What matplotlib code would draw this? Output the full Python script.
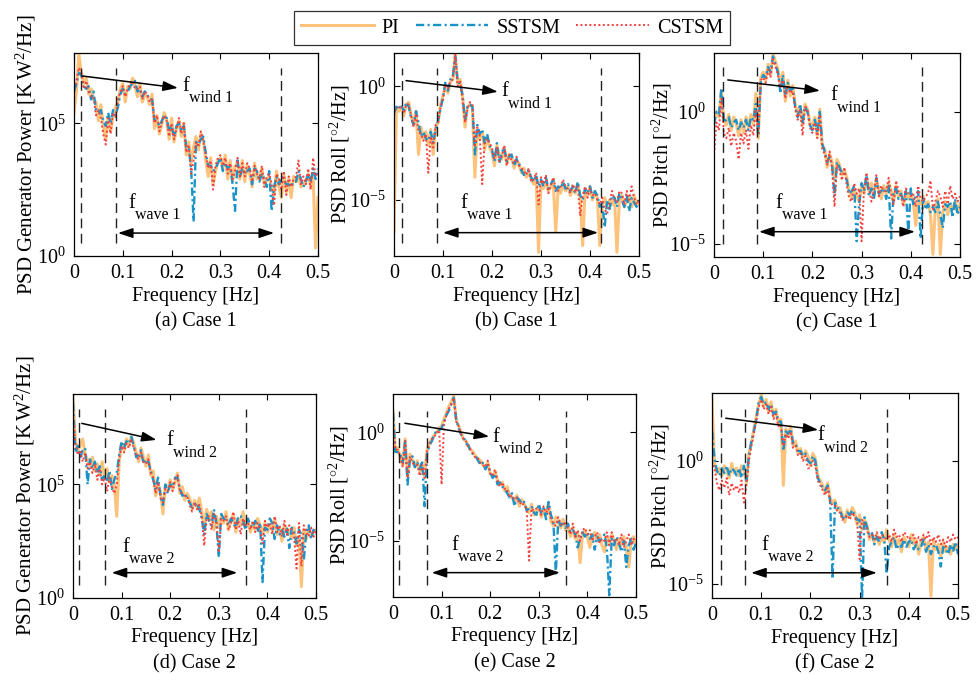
import numpy as np
import matplotlib
matplotlib.use('Agg')
import matplotlib.pyplot as plt

plt.rcParams['font.family'] = ['Liberation Serif', 'DejaVu Serif']
plt.rcParams['mathtext.fontset'] = 'custom'
plt.rcParams['mathtext.rm'] = 'Liberation Serif'
plt.rcParams['mathtext.it'] = 'Liberation Serif:italic'
plt.rcParams['axes.unicode_minus'] = False

# frequency bins [Hz]
freq = np.linspace(0, 0.5, 101)

series_names = ['PI', 'SSTSM', 'CSTSM']

# log10 of PSD values
# (a) generator power, case 1
a_pi = [5.4, 6.2, 7.6, 6.9, 6.5, 6.7, 6.1, 6.3, 5.9, 5.8,
        5.1, 5.7, 4.9, 4.4, 5.2, 4.7, 5.3, 5.6, 5.8, 6.3,
        6.5, 5.8, 6.4, 6.3, 6.7, 6.4, 6.0, 6.5, 5.8, 6.1,
        6.0, 5.7, 6.1, 4.8, 5.3, 4.6, 5.0, 5.4, 5.1, 4.4,
        5.2, 4.3, 4.8, 5.1, 4.5, 5.0, 3.8, 4.3, 3.5, 4.1,
        4.5, 4.0, 4.6, 4.4, 3.6, 3.0, 3.7, 2.7, 3.2, 3.6,
        3.7, 3.3, 3.8, 2.9, 3.6, 2.8, 3.4, 3.5, 2.9, 3.6,
        2.8, 3.4, 3.1, 2.6, 3.5, 2.9, 3.0, 3.3, 2.7, 2.9,
        3.0, 2.6, 2.3, 3.2, 2.6, 2.2, 3.1, 2.4, 2.9, 2.2,
        3.0, 2.8, 3.0, 2.6, 2.7, 2.8, 3.1, 2.6, 3.0, 0.3,
        2.2]
a_ss = [6.2, 6.5, 6.9, 6.8, 6.4, 6.3, 6.4, 5.9, 6.2, 5.5,
        5.4, 5.5, 5.1, 4.9, 5.4, 5.0, 5.5, 5.3, 5.6, 6.1,
        6.3, 6.1, 6.2, 6.4, 6.5, 6.6, 6.2, 6.3, 6.0, 6.2,
        6.1, 5.9, 5.9, 5.1, 5.1, 4.9, 5.1, 5.3, 5.2, 4.7,
        4.9, 4.5, 4.9, 5.0, 4.7, 4.9, 4.1, 4.1, 3.3, 1.3,
        4.3, 4.2, 4.4, 4.5, 3.9, 3.4, 3.4, 3.2, 3.3, 3.5,
        3.7, 3.2, 3.5, 3.3, 3.4, 2.7, 1.7, 3.6, 3.0, 3.3,
        3.1, 3.2, 3.3, 2.7, 3.3, 3.2, 2.8, 3.1, 2.9, 2.6,
        3.2, 1.7, 2.6, 3.0, 2.7, 3.0, 2.9, 2.7, 2.7, 2.6,
        2.8, 2.8, 3.2, 2.9, 2.6, 2.8, 3.1, 2.8, 3.3, 2.9,
        3.3]
a_cs = [6.3, 6.6, 7.1, 6.9, 6.3, 6.6, 6.2, 6.0, 6.0, 5.3,
        5.5, 5.2, 4.6, 4.2, 5.2, 4.6, 5.4, 5.2, 5.9, 6.2,
        6.4, 6.0, 6.3, 6.5, 6.6, 6.3, 6.3, 6.4, 5.9, 6.2,
        6.1, 5.8, 5.9, 5.0, 5.3, 4.7, 5.0, 5.3, 5.1, 4.5,
        5.0, 4.4, 4.8, 5.2, 4.6, 5.0, 3.9, 4.2, 3.1, 3.6,
        4.3, 4.1, 4.7, 4.3, 3.8, 3.3, 3.6, 2.5, 3.4, 3.7,
        3.8, 3.4, 3.7, 3.1, 3.5, 2.9, 3.2, 3.7, 3.0, 3.5,
        3.0, 3.5, 3.3, 2.8, 3.4, 3.1, 2.9, 3.4, 2.6, 3.0,
        3.1, 2.7, 1.9, 3.1, 2.9, 2.5, 3.2, 2.3, 3.0, 2.6,
        2.9, 3.0, 3.6, 2.7, 3.0, 2.7, 3.3, 2.5, 3.7, 3.0,
        3.2]

# (b) roll, case 1
b_pi = [-6.4, -1.0, -1.1, -0.9, -1.3, -0.8, -0.7, -1.3, -1.6, -1.1,
        -3.0, -1.8, -2.3, -2.0, -2.6, -1.9, -3.0, -1.8, -1.6, -0.8,
        -0.4, 0.0, -0.3, 0.2, 0.3, 1.45, 0.1, 0.3, -0.5, -1.8,
        -0.9, -0.8, -0.9, -4.0, -1.9, -2.3, -2.0, -2.8, -2.2, -2.7,
        -2.9, -3.5, -2.6, -3.0, -3.2, -2.7, -3.4, -3.0, -3.1, -3.6,
        -3.3, -3.4, -3.8, -3.6, -4.0, -3.8, -4.1, -4.3, -4.0, -7.3,
        -4.2, -4.5, -4.2, -4.6, -4.4, -4.2, -6.4, -4.5, -4.7, -4.3,
        -4.6, -4.4, -4.8, -4.5, -4.7, -4.3, -4.9, -7.0, -4.6, -4.8,
        -4.4, -5.0, -4.7, -4.9, -7.0, -5.2, -4.9, -5.3, -5.0, -5.2,
        -4.9, -7.3, -5.0, -4.8, -5.3, -5.0, -4.9, -5.3, -4.8, -5.1,
        -5.2]
b_ss = [-1.2, -0.9, -1.0, -0.8, -1.1, -0.7, -0.9, -1.4, -1.7, -1.1,
        -1.6, -2.2, -2.0, -2.3, -2.4, -2.0, -2.5, -1.9, -1.5, -1.0,
        -0.5, 0.2, -0.2, 0.3, 0.4, 1.3, 0.2, 0.1, -0.4, -1.5,
        -0.9, -0.8, -0.9, -3.0, -1.7, -2.1, -1.9, -2.5, -2.1, -2.6,
        -2.8, -3.3, -2.5, -3.4, -2.9, -2.7, -3.3, -3.1, -3.0, -3.5,
        -3.2, -3.4, -3.7, -3.9, -3.8, -3.7, -4.0, -4.2, -3.9, -4.4,
        -4.1, -4.4, -4.0, -4.5, -4.3, -4.1, -4.6, -4.4, -4.5, -4.2,
        -4.5, -4.3, -4.6, -4.4, -4.7, -4.2, -4.8, -5.0, -4.5, -4.7,
        -4.4, -4.9, -4.6, -4.8, -5.3, -5.1, -6.2, -5.0, -5.4, -4.8,
        -4.9, -5.3, -4.7, -5.0, -5.3, -4.8, -5.5, -4.9, -5.1, -5.3,
        -5.0]
b_cs = [-1.1, -1.0, -0.9, -0.9, -1.2, -0.8, -0.8, -1.3, -1.8, -1.2,
        -2.0, -2.1, -2.4, -2.1, -3.8, -2.2, -2.7, -1.7, -1.6, -0.9,
        -0.6, 0.1, -0.1, 0.2, 0.3, 1.4, 0.0, 0.2, -0.6, -1.6,
        -1.0, -0.7, -0.8, -2.6, -1.8, -2.2, -4.3, -2.4, -2.3, -2.5,
        -2.7, -3.2, -2.7, -3.3, -3.1, -2.6, -3.5, -3.0, -3.3, -3.4,
        -3.1, -3.5, -3.6, -3.7, -3.9, -3.6, -4.2, -4.1, -3.8, -5.2,
        -4.0, -4.3, -3.9, -4.7, -4.4, -4.0, -4.5, -4.6, -4.4, -4.1,
        -4.4, -4.5, -4.7, -4.3, -4.6, -4.4, -5.7, -4.8, -4.4, -4.9,
        -4.5, -4.8, -4.7, -5.0, -5.2, -4.9, -5.4, -5.6, -5.1, -4.6,
        -5.0, -5.1, -4.6, -4.7, -5.2, -4.6, -5.0, -4.4, -4.9, -5.2,
        -5.0]

# (c) pitch, case 1
c_pi = [-0.3, 0.0, -0.2, 0.8, -0.3, -0.5, -0.1, -0.7, -0.2, -0.4,
        -0.9, -0.3, -0.8, -0.2, -0.6, -0.1, -0.5, 0.7, -1.0, 1.3,
        1.5, 1.2, 1.8, 1.4, 2.2, 1.9, 1.6, 1.0, 1.5, 0.4,
        1.2, 0.6, 1.0, 0.3, -0.1, 0.2, -0.5, 0.3, 0.1, -0.4,
        -0.6, -0.2, -0.9, 0.1, -1.3, -1.4, -2.1, -1.6, -1.9, -2.6,
        -1.8, -2.0, -2.4, -2.2, -2.5, -3.0, -3.3, -2.9, -3.2, -3.4,
        -2.8, -3.1, -2.5, -3.0, -2.7, -3.2, -2.6, -2.9, -3.3, -2.8,
        -3.1, -2.7, -3.0, -3.4, -2.8, -3.2, -3.0, -3.5, -3.1, -3.3,
        -3.0, -3.4, -4.3, -3.3, -3.5, -3.2, -3.6, -3.4, -3.9, -5.4,
        -3.6, -3.3, -5.4, -3.8, -3.4, -3.9, -3.5, -3.7, -3.4, -3.8,
        -3.5]
c_ss = [-0.5, 0.0, -0.1, 0.9, -0.4, -0.3, -0.2, -0.6, -0.4, -0.3,
        -0.7, -0.4, -0.6, -0.3, -0.7, -0.2, -0.3, 0.3, -0.9, 1.1,
        1.4, 1.3, 1.7, 1.5, 2.1, 1.8, 1.5, 0.7, 1.4, 0.6,
        1.1, 0.8, 0.9, 0.2, -0.2, 0.3, -0.4, 0.2, 0.0, -0.5,
        -0.7, -0.3, -0.8, 0.0, -1.2, -1.5, -1.9, -1.7, -2.0, -3.2,
        -1.9, -2.1, -2.3, -2.3, -2.6, -3.1, -3.0, -2.8, -4.9, -3.5,
        -2.7, -3.0, -2.4, -3.2, -2.9, -3.3, -2.5, -3.1, -3.0, -2.9,
        -3.3, -2.8, -4.8, -3.0, -2.9, -3.3, -3.1, -3.4, -3.0, -4.6,
        -2.9, -3.5, -3.2, -3.0, -4.8, -3.3, -3.7, -3.5, -3.8, -3.6,
        -3.8, -3.4, -3.9, -4.4, -3.5, -3.6, -3.4, -4.0, -3.3, -3.9,
        -3.6]
c_cs = [-1.6, -0.4, -0.7, 0.5, -0.8, -1.0, -0.6, -1.3, -0.8, -1.1,
        -1.8, -0.8, -1.2, -0.7, -1.4, -0.5, -0.9, 0.1, -0.8, 1.2,
        1.3, 1.1, 1.6, 1.3, 2.0, 1.7, 1.4, 0.9, 1.2, 0.5,
        1.0, 0.7, 0.8, 0.1, -0.3, 0.1, -0.9, 0.2, 0.1, -0.6,
        -0.8, -0.4, -1.0, -0.1, -1.4, -1.6, -2.0, -1.5, -2.2, -3.6,
        -2.0, -2.2, -2.6, -2.1, -2.8, -3.3, -3.4, -2.7, -3.1, -2.9,
        -4.9, -2.9, -2.3, -2.9, -3.4, -3.0, -2.4, -3.2, -2.8, -3.0,
        -3.0, -2.5, -3.1, -3.5, -2.6, -3.0, -3.2, -3.6, -2.9, -3.1,
        -3.2, -3.1, -3.6, -2.8, -3.3, -3.4, -3.2, -3.1, -2.6, -3.7,
        -3.4, -3.0, -3.2, -3.6, -3.0, -3.5, -2.8, -3.3, -3.1, -3.4,
        -3.2]

# (d) generator power, case 2
d_pi = [8.9, 6.9, 6.5, 6.7, 7.0, 6.3, 6.1, 5.8, 6.2, 5.6,
        5.9, 5.4, 6.0, 5.3, 5.7, 5.1, 5.4, 5.0, 3.6, 6.0,
        6.8, 6.5, 7.0, 6.7, 7.1, 6.8, 6.4, 6.0, 6.6, 6.2,
        5.8, 6.3, 5.4, 5.6, 4.5, 5.0, 4.7, 3.7, 4.9, 4.8,
        5.2, 4.8, 5.1, 5.5, 4.6, 4.9, 4.3, 4.6, 4.4, 3.9,
        4.3, 4.0, 4.4, 3.8, 3.2, 3.9, 3.5, 3.8, 3.0, 3.6,
        3.1, 3.6, 3.3, 3.8, 3.0, 3.4, 3.7, 2.9, 3.5, 3.2,
        3.8, 3.1, 3.4, 2.9, 3.3, 3.0, 3.5, 3.2, 2.8, 3.3,
        2.9, 3.2, 3.0, 3.5, 2.8, 3.1, 2.5, 3.2, 2.9, 3.0,
        2.6, 3.1, 2.3, 2.7, 0.5, 3.0, 2.6, 3.1, 2.7, 2.9,
        3.0]
d_ss = [8.6, 6.4, 6.7, 6.2, 6.5, 6.6, 5.0, 6.1, 5.7, 6.0,
        5.5, 5.8, 5.2, 5.4, 5.1, 5.6, 4.8, 5.2, 5.5, 6.3,
        6.9, 6.6, 6.9, 6.8, 7.1, 6.7, 6.2, 6.3, 6.5, 5.9,
        6.1, 6.0, 5.6, 5.2, 4.8, 5.3, 4.5, 4.1, 5.0, 4.6,
        5.0, 4.9, 5.3, 5.3, 4.8, 4.5, 4.6, 4.4, 4.2, 4.0,
        4.1, 4.2, 3.9, 3.5, 2.8, 3.7, 3.4, 3.2, 3.9, 3.3,
        1.8, 3.7, 3.5, 3.4, 3.2, 3.5, 3.3, 3.1, 3.6, 3.6,
        3.4, 3.0, 3.5, 3.2, 3.1, 3.4, 2.9, 3.3, 0.7, 3.1,
        3.0, 3.5, 3.3, 2.6, 3.2, 2.8, 3.0, 2.7, 3.1, 2.2,
        3.1, 2.9, 2.4, 3.0, 2.8, 1.7, 2.9, 3.2, 2.6, 3.0,
        2.8]
d_cs = [8.0, 6.8, 6.3, 6.5, 6.0, 6.4, 5.7, 6.0, 5.5, 5.9,
        5.2, 5.7, 5.0, 5.3, 4.7, 5.3, 4.9, 4.6, 5.0, 6.1,
        6.7, 6.4, 6.8, 6.6, 7.0, 6.6, 6.3, 6.1, 6.4, 6.0,
        5.9, 6.1, 5.5, 5.3, 4.6, 5.1, 4.4, 4.2, 4.8, 4.7,
        5.1, 4.7, 5.2, 5.4, 4.7, 4.6, 4.5, 4.5, 4.1, 3.8,
        4.2, 3.9, 4.1, 3.6, 2.3, 3.5, 3.6, 3.0, 3.7, 3.4,
        2.0, 3.5, 3.4, 3.6, 3.0, 3.3, 3.8, 3.0, 3.4, 2.8,
        3.5, 3.2, 3.3, 3.0, 3.4, 2.9, 3.3, 3.0, 2.4, 3.4,
        3.1, 3.3, 2.8, 3.6, 2.9, 3.2, 2.7, 3.4, 2.8, 3.2,
        3.0, 2.7, 1.3, 3.3, 1.4, 3.2, 2.9, 2.7, 3.1, 2.7,
        3.0]

# (e) roll, case 2
e_pi = [1.0, -0.9, -0.7, -1.2, -1.5, -0.3, -2.0, -1.0, -1.3, -1.6,
        -1.3, -1.8, -1.5, -2.0, -0.8, -0.5, -0.3, -0.1, 0.0, 0.2,
        0.3, 0.6, 0.9, 1.2, 1.4, 1.7, 0.6, 0.3, 0.0, -0.3,
        -0.4, -0.6, -0.8, -0.9, -1.1, -1.2, -1.3, -1.5, -1.6, -1.4,
        -1.9, -2.0, -1.8, -2.2, -2.4, -2.3, -2.7, -2.5, -2.9, -3.0,
        -3.2, -2.9, -3.4, -3.1, -3.3, -3.5, -3.7, -3.3, -3.8, -3.6,
        -3.4, -3.9, -3.6, -3.8, -3.3, -4.1, -4.3, -3.9, -4.2, -4.4,
        -4.0, -4.5, -4.3, -4.8, -4.4, -4.9, -4.6, -6.0, -4.7, -4.5,
        -4.8, -5.3, -4.9, -4.6, -5.0, -4.7, -5.2, -5.5, -4.8, -5.1,
        -4.7, -5.0, -5.4, -4.9, -5.2, -4.8, -5.3, -6.2, -5.0, -4.8,
        -5.2]
e_ss = [0.9, -0.9, -0.9, -1.0, -1.4, -0.4, -2.4, -1.2, -1.1, -1.6,
        -1.4, -1.7, -1.3, -3.4, -1.0, -0.6, -0.4, -0.1, 0.1, 0.1,
        0.2, 0.5, 0.8, 1.0, 1.3, 1.6, 0.6, 0.2, -0.1, -0.2,
        -0.5, -0.6, -0.9, -1.0, -1.1, -1.3, -1.5, -1.4, -1.7, -1.5,
        -1.8, -2.1, -1.9, -2.4, -2.3, -2.5, -2.6, -2.8, -3.0, -2.8,
        -3.4, -3.0, -3.1, -3.3, -3.2, -3.6, -3.5, -3.4, -3.7, -3.8,
        -3.3, -3.7, -3.5, -4.0, -3.2, -3.8, -4.1, -6.5, -4.0, -4.3,
        -4.1, -4.4, -4.2, -4.6, -4.5, -4.7, -5.3, -4.9, -4.6, -4.8,
        -4.6, -4.9, -4.7, -5.4, -4.8, -5.0, -4.9, -4.7, -5.3, -7.5,
        -4.9, -5.2, -4.8, -5.1, -5.5, -5.0, -6.2, -5.2, -4.9, -5.4,
        -5.1]
e_cs = [0.4, -0.8, -0.8, -1.1, -1.6, -0.4, -2.1, -1.1, -1.4, -1.5,
        -1.5, -2.0, -1.5, -2.1, -0.9, -0.5, -0.3, -0.2, 0.0, 0.1,
        -2.4, 0.4, 0.8, 1.1, 1.3, 1.6, 0.5, 0.3, -0.1, -0.3,
        -0.4, -0.7, -0.8, -1.0, -1.2, -1.2, -1.4, -1.5, -1.6, -1.3,
        -1.9, -2.0, -1.7, -2.2, -2.5, -2.3, -2.6, -2.6, -3.0, -2.9,
        -3.1, -3.0, -3.3, -3.2, -3.4, -3.5, -5.9, -3.5, -3.6, -3.5,
        -3.5, -3.8, -3.4, -3.7, -3.5, -4.0, -4.2, -4.3, -3.9, -4.2,
        -4.3, -4.1, -4.4, -4.7, -4.2, -4.8, -4.5, -5.0, -4.5, -4.4,
        -4.7, -4.5, -5.0, -4.8, -4.6, -5.1, -4.9, -5.0, -4.6, -5.2,
        -4.6, -5.0, -4.9, -5.2, -4.7, -5.3, -5.0, -4.7, -5.2, -4.9,
        -5.0]

# (f) pitch, case 2
f_pi = [2.5, -0.1, -0.5, -0.3, -0.6, -0.2, -0.4, -0.7, -0.1, -0.5,
        -0.3, -0.6, -0.2, -0.4, -0.9, 0.3, 0.7, 1.3, 1.8, 2.3,
        2.7, 2.2, 2.5, 2.0, 2.4, 1.8, 2.1, 1.5, 1.7, -1.0,
        1.3, 1.0, 1.4, 0.6, 0.8, 0.3, 0.5, 0.1, 0.4, 0.2,
        -0.2, 0.3, 0.1, -0.6, -0.8, -1.0, -1.3, -0.9, -1.5, -1.7,
        -1.6, -2.0, -1.9, -2.2, -2.5, -2.0, -2.3, -1.9, -2.1, -2.6,
        -2.2, -2.8, -2.4, -2.6, -3.2, -3.0, -3.3, -3.0, -3.4, -3.1,
        -3.3, -2.8, -3.2, -3.5, -3.0, -3.4, -3.2, -3.7, -3.1, -3.3,
        -3.5, -3.0, -3.4, -3.2, -3.8, -3.3, -3.1, -3.6, -3.3, -5.5,
        -3.2, -3.6, -3.4, -3.9, -3.3, -3.7, -3.5, -3.8, -3.4, -3.6,
        -3.4]
f_ss = [1.2, 0.1, -0.4, -0.6, -0.3, -0.5, -0.2, -0.6, -0.3, -0.4,
        -0.6, -0.3, -0.7, -0.2, -0.8, 0.2, 0.8, 1.2, 1.7, 2.4,
        2.6, 2.3, 2.4, 2.1, 2.3, 1.9, 2.0, 1.6, 1.6, 0.4,
        1.2, 1.1, 1.3, 0.7, 0.7, 0.4, 0.4, 0.2, 0.3, 0.0,
        -0.1, 0.2, 0.0, -0.7, -0.9, -1.1, -1.2, -1.0, -1.6, -4.8,
        -1.7, -1.9, -2.0, -2.3, -2.4, -2.1, -2.2, -2.0, -2.2, -2.4,
        -2.4, -5.6, -2.3, -2.7, -3.0, -2.9, -3.4, -3.1, -3.3, -2.9,
        -3.2, -4.6, -3.5, -3.3, -3.1, -3.6, -3.4, -3.5, -3.2, -3.5,
        -3.3, -3.2, -3.6, -3.4, -3.6, -3.5, -3.2, -3.7, -3.4, -3.8,
        -3.5, -3.4, -3.7, -4.3, -3.5, -3.6, -3.8, -3.4, -3.7, -3.3,
        -3.8]
f_cs = [0.0, -0.3, -0.9, -1.2, -0.8, -1.1, -0.7, -1.4, -0.9, -1.2,
        -1.0, -1.3, -0.8, -1.7, -1.0, 0.0, 0.6, 1.1, 1.6, 2.2,
        2.5, 2.1, 2.3, 1.9, 2.2, 1.7, 1.9, 1.4, 1.5, 0.6,
        1.1, 0.9, 1.2, 0.5, 0.6, 0.2, 0.3, 0.0, 0.2, -0.3,
        -0.3, 0.0, -0.2, -0.8, -1.0, -1.2, -1.4, -1.1, -1.7, -1.8,
        -1.8, -2.1, -2.1, -2.4, -2.3, -2.2, -2.4, -2.1, -2.3, -2.5,
        -4.0, -2.4, -2.6, -2.8, -3.1, -3.0, -3.2, -2.9, -3.2, -3.0,
        -3.1, -3.2, -3.0, -3.3, -2.8, -3.1, -3.0, -3.3, -2.9, -3.0,
        -3.2, -3.1, -3.0, -3.4, -3.1, -3.3, -3.0, -3.2, -2.9, -3.4,
        -3.1, -3.3, -3.0, -3.4, -3.2, -3.5, -3.1, -3.3, -3.0, -3.2,
        -3.1]

ylabels = ['PSD Generator Power [K$\\,$W$^{2}$/Hz]', 'PSD Roll [$^{\\circ 2}$/Hz]',
           'PSD Pitch [$^{\\circ 2}$/Hz]'] * 2
captions = ['(a) Case 1', '(b) Case 1', '(c) Case 1',
            '(d) Case 2', '(e) Case 2', '(f) Case 2']
subs = ['1', '1', '1', '2', '2', '2']

panels = [(a_pi, a_ss, a_cs), (b_pi, b_ss, b_cs), (c_pi, c_ss, c_cs),
          (d_pi, d_ss, d_cs), (e_pi, e_ss, e_cs), (f_pi, f_ss, f_cs)]

# layout in pixels: left, bottom(from top), width, height
boxes = [(74, 256, 244, 203), (394, 256, 245, 203), (714, 257, 246, 204),
         (73, 598, 243, 204), (393, 597, 243, 203), (712, 598, 246, 205)]
ylims = [(0, 7.65), (-7.46, 1.46), (-5.5, 2.23),
         (0, 8.98), (-7.58, 1.77), (-5.58, 2.76)]
yticks = [[0, 5], [-5, 0], [-5, 0], [0, 5], [-5, 0], [-5, 0]]
ylab_x = [-0.196, -0.222, -0.21, -0.197, -0.224, -0.21]
ylab_fs = [15.0, 14.5, 14.5, 15.0, 14.5, 14.5]

vlines = [(0.0143, 0.0867, 0.4235), (0.0157, 0.0871, 0.4218), (0.0177, 0.088, 0.422),
          (0.0123, 0.0665, 0.355), (0.0123, 0.0693, 0.355), (0.0177, 0.067, 0.356)]
vspan = [(0.064, 0.926), (0.064, 0.926), (0.064, 0.933),
         (0.064, 0.925), (0.059, 0.918), (0.063, 0.92)]
wind_arrow = [((0.032, 0.887), (0.426, 0.828)), ((0.049, 0.864), (0.424, 0.809)),
              ((0.056, 0.868), (0.431, 0.815)), ((0.036, 0.856), (0.344, 0.775)),
              ((0.049, 0.856), (0.396, 0.79)), ((0.056, 0.877), (0.432, 0.82))]
wave_arrow = [(0.18, 0.82, 0.113), (0.2, 0.833, 0.115), (0.183, 0.817, 0.124),
              (0.159, 0.676, 0.124), (0.159, 0.687, 0.12), (0.159, 0.67, 0.123)]
wind_txt = [(0.443, 0.834), (0.44, 0.808), (0.472, 0.79),
            (0.386, 0.771), (0.41, 0.787), (0.43, 0.792)]
wave_txt = [(0.223, 0.26), (0.27, 0.26), (0.251, 0.263),
            (0.204, 0.25), (0.24, 0.253), (0.2, 0.257)]

colors = ['#FDC37C', '#1B93C9', '#F5413E']
styles = ['-', (0, (3.5, 1.4, 0.9, 1.4)), (0, (1, 1.3))]
widths = [2.2, 1.7, 1.4]

FS = 14.5
W, H = 979, 675
fig = plt.figure(figsize=(W / 100, H / 100), dpi=100)


def f_label(ax, x, y, sub):
    ax.text(x, y, 'f', transform=ax.transAxes, fontsize=FS, ha='left', va='center')
    ax.text(x + 0.027, y - 0.058, sub, transform=ax.transAxes, fontsize=11.5,
            ha='left', va='center')


lines = []
for k, (data, box) in enumerate(zip(panels, boxes)):
    l, b, w, h = box
    ax = fig.add_axes([l / W, 1 - b / H, w / W, h / H])
    for vals, c, ls, lw, name in zip(data, colors, styles, widths, series_names):
        ln, = ax.semilogy(freq, 10 ** np.array(vals), color=c, ls=ls, lw=lw, label=name)
        if k == 0:
            lines.append(ln)
    ax.set_xlim(0, 0.5)
    ax.set_ylim(10 ** ylims[k][0], 10 ** ylims[k][1])
    ax.set_xticks([0, 0.1, 0.2, 0.3, 0.4, 0.5])
    ax.set_xticklabels(['0', '0.1', '0.2', '0.3', '0.4', '0.5'])
    ax.set_yticks([10.0 ** t for t in yticks[k]])
    ax.set_yticklabels(['10$^{%d}$' % t if t >= 0 else '10$^{\\mathregular{-%d}}$' % -t
                        for t in yticks[k]])
    ax.minorticks_off()
    ax.tick_params(direction='in', top=True, right=True, labelsize=FS, length=4,
                   width=0.8, pad=6)
    for s in ax.spines.values():
        s.set_linewidth(0.9)

    ax.text(0.5, -0.2 if k < 3 else -0.196, 'Frequency [Hz]', transform=ax.transAxes,
            fontsize=FS, ha='center', va='center')
    ax.text(0.5, -0.322, captions[k], transform=ax.transAxes,
            fontsize=FS, ha='center', va='center')
    ax.text(ylab_x[k], 0.5, ylabels[k], transform=ax.transAxes, fontsize=ylab_fs[k],
            rotation=90, ha='center', va='center')

    trans = ax.get_xaxis_transform()
    for xv in vlines[k]:
        ax.plot([xv, xv], vspan[k], transform=trans, color='#222222',
                ls=(0, (7, 4)), lw=1.0)

    (x0, y0), (x1, y1) = wind_arrow[k]
    ax.annotate('', xy=(x1, y1), xytext=(x0, y0), xycoords='axes fraction',
                arrowprops=dict(arrowstyle='-|>,head_length=0.9,head_width=0.3',
                                color='black', lw=1.1, shrinkA=0, shrinkB=0))
    wx0, wx1, wy = wave_arrow[k]
    ax.annotate('', xy=(wx1, wy), xytext=(wx0, wy), xycoords='axes fraction',
                arrowprops=dict(arrowstyle='<|-|>,head_length=0.9,head_width=0.3',
                                color='black', lw=1.1, shrinkA=0, shrinkB=0))
    f_label(ax, wind_txt[k][0], wind_txt[k][1], 'wind ' + subs[k])
    f_label(ax, wave_txt[k][0], wave_txt[k][1], 'wave ' + subs[k])

leg = fig.legend(lines, series_names, loc='center', ncol=3,
                 bbox_to_anchor=(512 / W, 1 - 28 / H), fontsize=FS,
                 handlelength=3.6, handletextpad=0.4, columnspacing=0.8,
                 frameon=True, fancybox=False, borderpad=0.35)
leg.get_frame().set_edgecolor('black')
leg.get_frame().set_linewidth(0.9)

fig.savefig('out.png', dpi=100)
